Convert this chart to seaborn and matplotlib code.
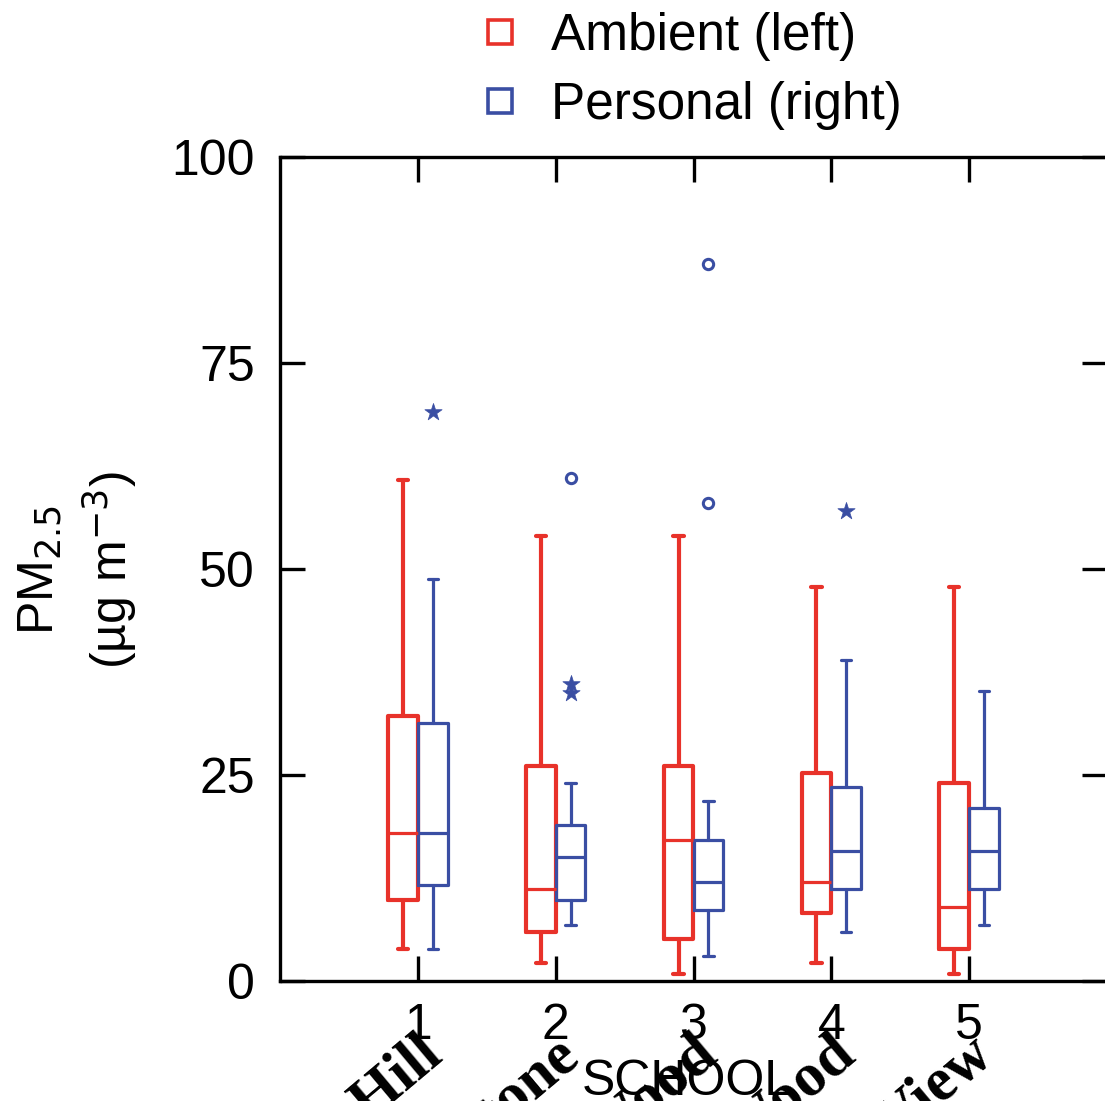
import matplotlib
matplotlib.use('Agg')
import matplotlib.pyplot as plt
from matplotlib.lines import Line2D
import seaborn as sns
import pandas as pd

# data
schools = [1, 2, 3, 4, 5]
school_names = ['Hill', 'Stone', 'Wood', 'Wood', 'View']

ambient_lo = [3.9, 2.2, 0.9, 2.2, 0.9]
ambient_q1 = [9.8, 6.0, 5.1, 8.2, 3.9]
ambient_med = [18.0, 11.2, 17.1, 12.0, 9.0]
ambient_q3 = [32.2, 26.1, 26.1, 25.3, 24.0]
ambient_hi = [60.8, 54.0, 54.0, 47.8, 47.8]

personal_lo = [3.9, 6.8, 3.0, 6.0, 6.8]
personal_q1 = [11.6, 9.8, 8.6, 11.2, 11.2]
personal_med = [18.0, 15.1, 12.0, 15.8, 15.8]
personal_q3 = [31.3, 18.9, 17.1, 23.6, 21.0]
personal_hi = [48.8, 24.0, 21.9, 39.0, 35.2]

# personal outliers: school, value, marker kind
out_school = [1, 2, 2, 2, 3, 3, 4]
out_value = [69, 61, 36, 35, 87, 58, 57]
out_kind = ['star', 'circle', 'star', 'star', 'circle', 'circle', 'star']

yticks = [0, 25, 50, 75, 100]

RED = '#e8322a'
BLUE = '#3a4ea3'


def make_stats(lo, q1, med, q3, hi):
    return [dict(whislo=a, q1=b, med=c, q3=d, whishi=e, fliers=[])
            for a, b, c, d, e in zip(lo, q1, med, q3, hi)]


sns.set_style('ticks')
plt.rcParams['font.family'] = ['Liberation Sans', 'DejaVu Sans']
plt.rcParams['text.color'] = 'black'
plt.rcParams['xtick.color'] = 'black'
plt.rcParams['ytick.color'] = 'black'

fig = plt.figure(figsize=(11.05, 11.01), dpi=100)
ax = fig.add_axes([280 / 1105, 120 / 1101, 827 / 1105, 824 / 1101])

off = 0.108
bw = 0.215
for stats, col, lw, sign in [
        (make_stats(ambient_lo, ambient_q1, ambient_med, ambient_q3, ambient_hi), RED, 3.0, -1),
        (make_stats(personal_lo, personal_q1, personal_med, personal_q3, personal_hi), BLUE, 2.3, 1)]:
    ax.bxp(stats, positions=[s + sign * off for s in schools], widths=bw,
           capwidths=0.075, showfliers=False, manage_ticks=False,
           boxprops=dict(color=col, linewidth=lw),
           whiskerprops=dict(color=col, linewidth=lw),
           capprops=dict(color=col, linewidth=lw),
           medianprops=dict(color=col, linewidth=2.3))

df_out = pd.DataFrame({'x': [s + off for s in out_school], 'y': out_value, 'kind': out_kind})
sns.scatterplot(data=df_out[df_out.kind == 'circle'], x='x', y='y', ax=ax, marker='o',
                s=55, facecolor='white', edgecolor=BLUE, linewidth=2.2, legend=False)
sns.scatterplot(data=df_out[df_out.kind == 'star'], x='x', y='y', ax=ax, marker='*',
                s=170, color=BLUE, edgecolor=BLUE, linewidth=0.5, legend=False)

ax.set_xlim(0, 6)
ax.set_ylim(0, 100)
ax.set_xticks(schools)
ax.set_xticklabels([str(s) for s in schools])
ax.set_yticks(yticks)
ax.set_yticklabels([str(v) for v in yticks])
ax.tick_params(direction='in', length=18, width=2.4, labelsize=36, color='black',
               labelcolor='black', top=True, right=True)
ax.tick_params(axis='x', pad=16)
ax.tick_params(axis='y', pad=18)
for sp in ax.spines.values():
    sp.set_linewidth(2.4)
    sp.set_color('black')
ax.set_xlabel('')
ax.set_ylabel('')

ax.text(0.493, -0.095, 'SCHOOL', transform=ax.transAxes, ha='center', va='top',
        fontsize=36, color='black')

# rotated school names below the axis, cut by the figure edge as in the original
for s, name in zip(schools, school_names):
    ax.text(s + 0.19, -0.094, name, transform=ax.get_xaxis_transform(),
            ha='right', va='baseline', rotation=40, rotation_mode='anchor',
            family='Liberation Serif', fontweight='bold', fontsize=44,
            color='black', clip_on=False)

fig.text(40 / 1105, 1 - 570 / 1101, r'PM$_{2.5}$', rotation=90, ha='center', va='center',
         fontsize=36, color='black')
fig.text(110 / 1105, 1 - 570 / 1101, r'(µg m$^{-3}$)', rotation=90, ha='center',
         va='center', fontsize=36, color='black')

handles = [Line2D([], [], marker='s', linestyle='none', markerfacecolor='none',
                  markeredgecolor=RED, markersize=17, markeredgewidth=2.6),
           Line2D([], [], marker='s', linestyle='none', markerfacecolor='none',
                  markeredgecolor=BLUE, markersize=17, markeredgewidth=2.6)]
fig.legend(handles, ['Ambient (left)', 'Personal (right)'], loc='upper left',
           bbox_to_anchor=(474 / 1105, 1 - 12 / 1101), frameon=False, fontsize=37,
           handlelength=1.0, handletextpad=0.5, labelspacing=0.38, borderpad=0,
           borderaxespad=0, labelcolor='black')

fig.savefig('out.png', dpi=100, facecolor='white')
